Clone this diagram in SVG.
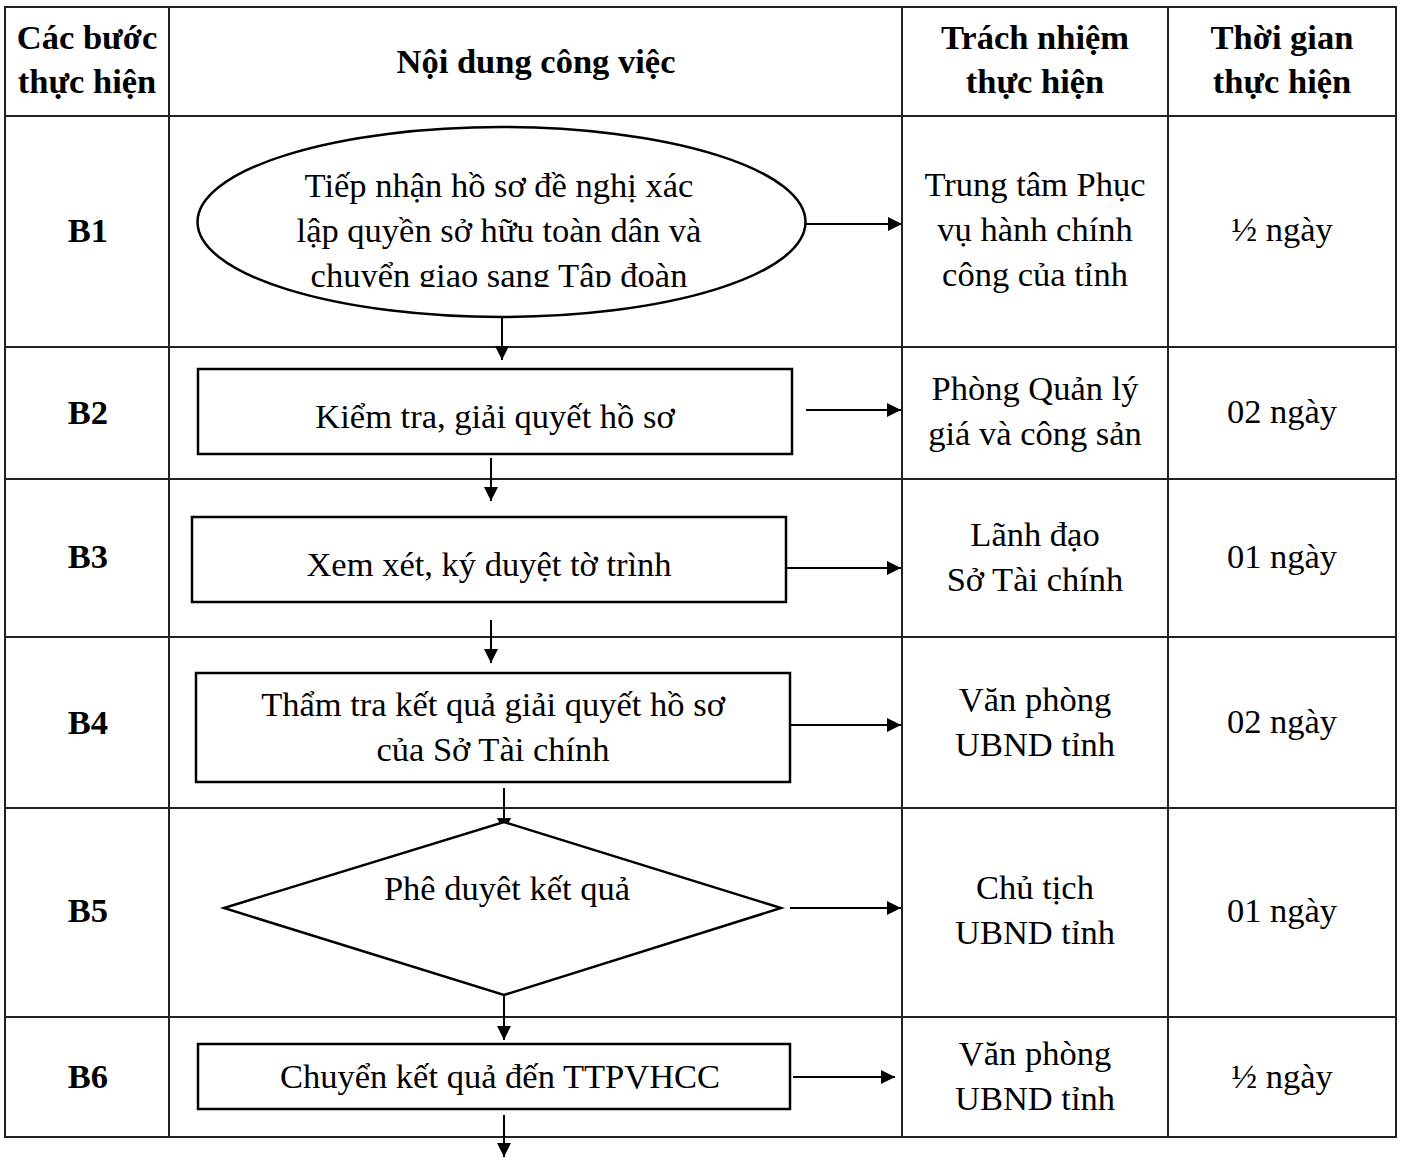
<svg xmlns="http://www.w3.org/2000/svg" width="1401" height="1158" viewBox="0 0 1401 1158">
<style>
.t{font-family:"Liberation Serif","Times New Roman",serif;font-size:34.5px;fill:#000;text-anchor:middle}
.b{font-weight:bold}
.grid{stroke:#222;stroke-width:2;fill:none}
.shape{stroke:#000;stroke-width:2.5;fill:#fff}
.conn{stroke:#000;stroke-width:2;fill:none}
</style>
<defs>
<marker id="ah" viewBox="0 0 10 10" refX="10" refY="5" markerWidth="14" markerHeight="14" markerUnits="userSpaceOnUse" orient="auto"><path d="M0,0 L10,5 L0,10 z" fill="#000"/></marker>
<clipPath id="ec"><rect x="200" y="130" width="600" height="157"/></clipPath>
</defs>
<rect width="1401" height="1158" fill="#fff"/>
<g id="table">
<rect class="grid" x="5" y="7" width="1391" height="1130"/>
<line class="grid" x1="169" y1="7" x2="169" y2="1137"/>
<line class="grid" x1="902" y1="7" x2="902" y2="1137"/>
<line class="grid" x1="1168" y1="7" x2="1168" y2="1137"/>
<line class="grid" x1="5" y1="116" x2="1396" y2="116"/>
<line class="grid" x1="5" y1="347" x2="1396" y2="347"/>
<line class="grid" x1="5" y1="479" x2="1396" y2="479"/>
<line class="grid" x1="5" y1="637" x2="1396" y2="637"/>
<line class="grid" x1="5" y1="808" x2="1396" y2="808"/>
<line class="grid" x1="5" y1="1017" x2="1396" y2="1017"/>
</g>
<g id="header">
<text class="t b" x="87" y="49">Các bước</text>
<text class="t b" x="87" y="93">thực hiện</text>
<text class="t b" x="536" y="73">Nội dung công việc</text>
<text class="t b" x="1035" y="49">Trách nhiệm</text>
<text class="t b" x="1035" y="93">thực hiện</text>
<text class="t b" x="1282" y="49">Thời gian</text>
<text class="t b" x="1282" y="93">thực hiện</text>
</g>
<g id="steps">
<text class="t b" x="88" y="242">B1</text>
<text class="t b" x="88" y="424">B2</text>
<text class="t b" x="88" y="568">B3</text>
<text class="t b" x="88" y="734">B4</text>
<text class="t b" x="88" y="922">B5</text>
<text class="t b" x="88" y="1088">B6</text>
</g>
<g id="resp">
<text class="t" x="1035" y="196">Trung tâm Phục</text>
<text class="t" x="1035" y="241">vụ hành chính</text>
<text class="t" x="1035" y="286">công của tỉnh</text>
<text class="t" x="1035" y="400">Phòng Quản lý</text>
<text class="t" x="1035" y="445">giá và công sản</text>
<text class="t" x="1035" y="546">Lãnh đạo</text>
<text class="t" x="1035" y="591">Sở Tài chính</text>
<text class="t" x="1035" y="711">Văn phòng</text>
<text class="t" x="1035" y="756">UBND tỉnh</text>
<text class="t" x="1035" y="899">Chủ tịch</text>
<text class="t" x="1035" y="944">UBND tỉnh</text>
<text class="t" x="1035" y="1065">Văn phòng</text>
<text class="t" x="1035" y="1110">UBND tỉnh</text>
</g>
<g id="time">
<text class="t" x="1282" y="241">½ ngày</text>
<text class="t" x="1282" y="423">02 ngày</text>
<text class="t" x="1282" y="568">01 ngày</text>
<text class="t" x="1282" y="733">02 ngày</text>
<text class="t" x="1282" y="922">01 ngày</text>
<text class="t" x="1282" y="1088">½ ngày</text>
</g>
<g id="connectors">
<line class="conn" x1="806" y1="224" x2="902" y2="224" marker-end="url(#ah)"/>
<line class="conn" x1="502" y1="317" x2="502" y2="360" marker-end="url(#ah)"/>
<line class="conn" x1="806" y1="410" x2="901" y2="410" marker-end="url(#ah)"/>
<line class="conn" x1="491" y1="458" x2="491" y2="501" marker-end="url(#ah)"/>
<line class="conn" x1="786" y1="568" x2="901" y2="568" marker-end="url(#ah)"/>
<line class="conn" x1="491" y1="620" x2="491" y2="663" marker-end="url(#ah)"/>
<line class="conn" x1="790" y1="725" x2="901" y2="725" marker-end="url(#ah)"/>
<line class="conn" x1="504" y1="788" x2="504" y2="832" marker-end="url(#ah)"/>
<line class="conn" x1="790" y1="908" x2="901" y2="908" marker-end="url(#ah)"/>
<line class="conn" x1="504" y1="995" x2="504" y2="1040" marker-end="url(#ah)"/>
<line class="conn" x1="793" y1="1077" x2="895" y2="1077" marker-end="url(#ah)"/>
<line class="conn" x1="504" y1="1115" x2="504" y2="1157" marker-end="url(#ah)"/>
</g>
<g id="n1">
<ellipse class="shape" cx="501.5" cy="222" rx="304" ry="95"/>
<g clip-path="url(#ec)">
<text class="t" x="499" y="197">Tiếp nhận hồ sơ đề nghị xác</text>
<text class="t" x="499" y="242">lập quyền sở hữu toàn dân và</text>
<text class="t" x="499" y="287">chuyển giao sang Tập đoàn</text>
</g>
</g>
<g id="n2">
<rect class="shape" x="198" y="369" width="594" height="85"/>
<text class="t" x="495" y="428">Kiểm tra, giải quyết hồ sơ</text>
</g>
<g id="n3">
<rect class="shape" x="192" y="517" width="594" height="85"/>
<text class="t" x="489" y="576">Xem xét, ký duyệt tờ trình</text>
</g>
<g id="n4">
<rect class="shape" x="196" y="673" width="594" height="109"/>
<text class="t" x="493" y="716">Thẩm tra kết quả giải quyết hồ sơ</text>
<text class="t" x="493" y="761">của Sở Tài chính</text>
</g>
<g id="n5">
<polygon class="shape" points="504,822 781,908 504,995 224,908"/>
<text class="t" x="507" y="900">Phê duyêt kết quả</text>
</g>
<g id="n6">
<rect class="shape" x="198" y="1044" width="592" height="65"/>
<text class="t" x="500" y="1088">Chuyển kết quả đến TTPVHCC</text>
</g>
</svg>
